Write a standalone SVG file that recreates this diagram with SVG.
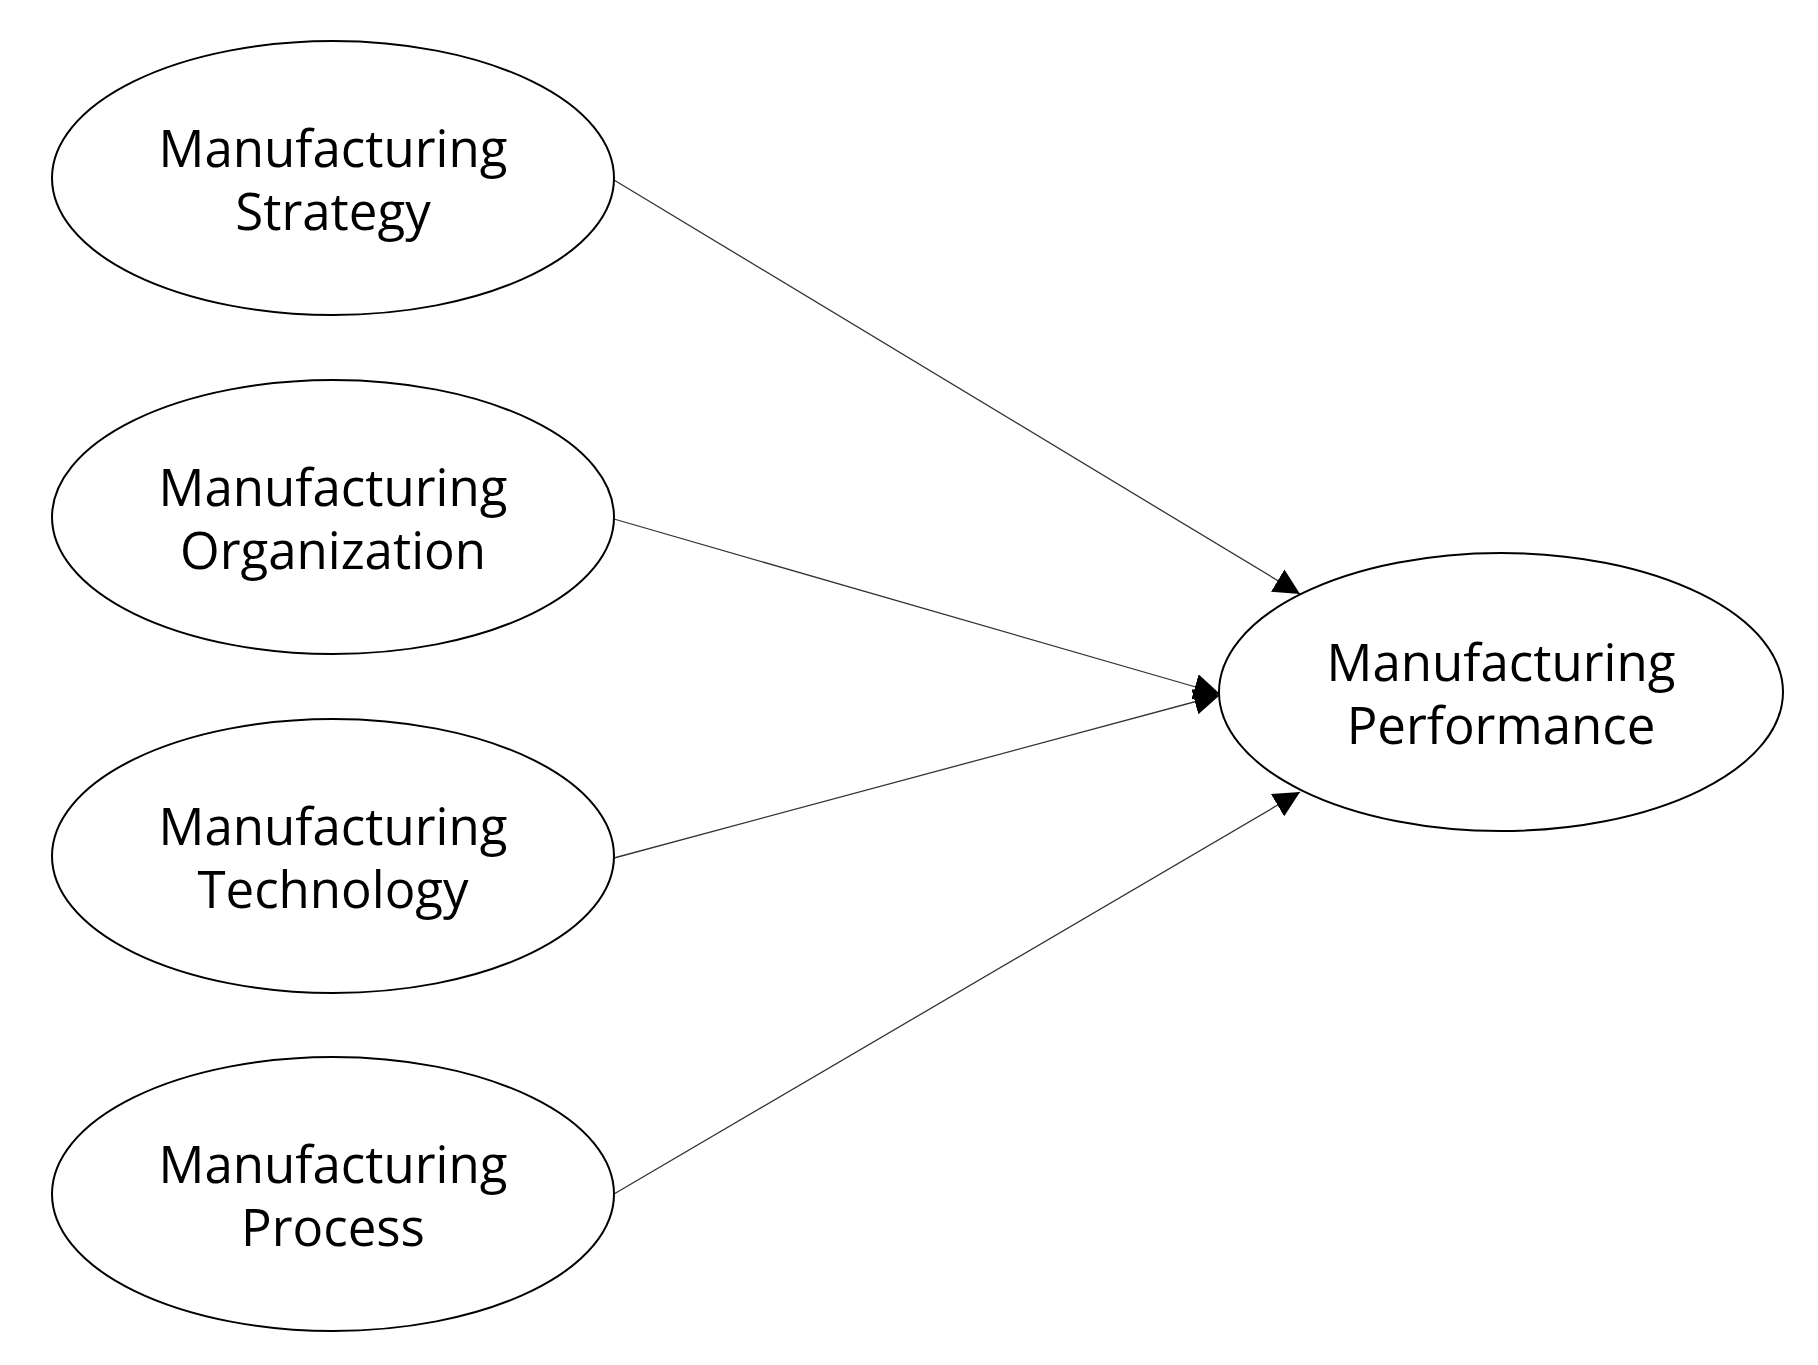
<svg xmlns="http://www.w3.org/2000/svg" width="1818" height="1365" viewBox="0 0 1818 1365">
<style>
.n{fill:#fff;stroke:#000;stroke-width:2}
.t{font-family:"Open Sans","Noto Sans",sans-serif;font-size:51px;text-anchor:middle;fill:#000}
.c{stroke:#333;stroke-width:1.3;fill:none;marker-end:url(#a)}
</style>
<defs><marker id="a" viewBox="0 0 10 10" refX="10" refY="5" markerWidth="26" markerHeight="26" markerUnits="userSpaceOnUse" orient="auto"><path d="M0,0L10,5L0,10z" fill="#000"/></marker></defs>
<rect width="1818" height="1365" fill="#fff"/>
<g id="connectors">
<line class="c" x1="614" y1="180" x2="1300" y2="594"/>
<line class="c" x1="614" y1="519" x2="1220" y2="694"/>
<line class="c" x1="614" y1="858" x2="1220" y2="695"/>
<line class="c" x1="614" y1="1194" x2="1300" y2="792"/>
</g>
<g id="strategy"><ellipse class="n" cx="333" cy="178" rx="281" ry="137"/><text class="t" x="333" y="167">Manufacturing</text><text class="t" x="333" y="230">Strategy</text></g>
<g id="organization"><ellipse class="n" cx="333" cy="517" rx="281" ry="137"/><text class="t" x="333" y="506">Manufacturing</text><text class="t" x="333" y="569">Organization</text></g>
<g id="technology"><ellipse class="n" cx="333" cy="856" rx="281" ry="137"/><text class="t" x="333" y="845">Manufacturing</text><text class="t" x="333" y="908">Technology</text></g>
<g id="process"><ellipse class="n" cx="333" cy="1194" rx="281" ry="137"/><text class="t" x="333" y="1183">Manufacturing</text><text class="t" x="333" y="1246">Process</text></g>
<g id="performance"><ellipse class="n" cx="1501" cy="692" rx="282" ry="139"/><text class="t" x="1501" y="681">Manufacturing</text><text class="t" x="1501" y="744">Performance</text></g>
</svg>
